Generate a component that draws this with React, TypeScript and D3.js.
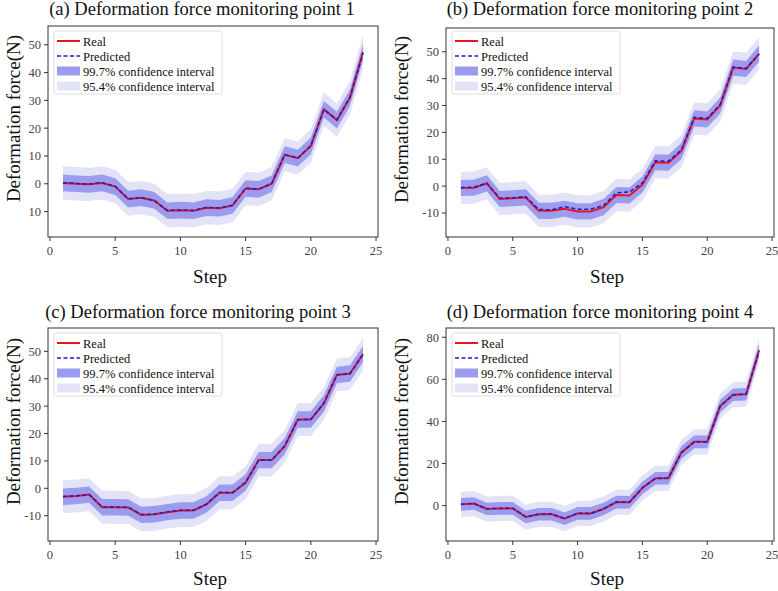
import * as d3 from 'd3';

const steps = d3.range(1, 25);

// real / predicted values per monitoring point
const realA = [0.3, 0, -0.2, 0.3, -1, -5.5, -5, -6, -9.7, -9.5, -9.7, -8.6, -8.8, -7.8, -1.7, -2, 0, 10.5, 9.2, 13.6, 26.8, 22.9, 31, 47.3];
const predA = [0.4, 0.1, -0.1, 0.4, -0.9, -5.4, -5, -6.1, -9.6, -9.4, -9.6, -8.5, -8.7, -7.7, -1.6, -1.9, 0.1, 10.4, 9.3, 13.7, 26.7, 23, 31.1, 47.1];

const realB = [-0.7, -0.6, 1, -4.8, -4.5, -4.2, -9.2, -9.2, -8.4, -9.4, -9.4, -7.8, -3.3, -3.5, 0.6, 8.9, 8.7, 13, 25.2, 24.8, 30, 44.1, 43.6, 49.3];
const predB = [-0.5, -0.4, 1.1, -4.5, -4.3, -4, -8.7, -8.8, -7.7, -8.6, -8.6, -7.2, -2.5, -2.2, 1.2, 9.4, 9.2, 13.4, 25.6, 25.2, 30.4, 44.3, 43.8, 49.1];

const realC = [-3.1, -2.8, -2.3, -6.9, -6.9, -7, -9.7, -9.5, -8.7, -8.1, -8.1, -5.9, -1.6, -1.6, 2.1, 10.3, 10.3, 15.4, 25.1, 25.1, 31, 41.4, 41.9, 49];
const predC = [-3, -2.8, -2.2, -6.8, -6.9, -6.9, -9.6, -9.5, -8.6, -8, -8, -5.8, -1.5, -1.6, 2.2, 10.2, 10.3, 15.5, 25, 25.2, 31.1, 41.5, 41.8, 48.8];

const realD = [0.6, 1, -1.6, -1.3, -1.3, -5.4, -4.1, -4.1, -6.2, -3.7, -3.7, -1.6, 1.7, 1.6, 8.4, 13, 13, 25.2, 30.3, 30.3, 47.3, 52.7, 52.9, 73.8];
const predD = [0.7, 1, -1.5, -1.3, -1.2, -5.3, -4.1, -4, -6.1, -3.6, -3.7, -1.5, 1.8, 1.6, 8.5, 12.9, 13.1, 25.1, 30.4, 30.2, 47.4, 52.6, 53, 73.5];

// half widths of the two bands
const inner = 3;
const outer = 6;

const xTicks = [0, 5, 10, 15, 20, 25];

const panels = [
  { title: '(a) Deformation force monitoring point 1', real: realA, pred: predA, yTicks: [-10, 0, 10, 20, 30, 40, 50], noMinus: true,
    box: { l: 48, r: 378, t: 26, b: 237 }, titleX: 202, titleY: 15, ylabX: 20, stepY: 283 },
  { title: '(b) Deformation force monitoring point 2', real: realB, pred: predB, yTicks: [-10, 0, 10, 20, 30, 40, 50], noMinus: false,
    box: { l: 446, r: 774, t: 28, b: 237 }, titleX: 600, titleY: 15, ylabX: 408, stepY: 283 },
  { title: '(c) Deformation force monitoring point 3', real: realC, pred: predC, yTicks: [-10, 0, 10, 20, 30, 40, 50], noMinus: false,
    box: { l: 48, r: 378, t: 328, b: 541 }, titleX: 198, titleY: 318, ylabX: 20, stepY: 585 },
  { title: '(d) Deformation force monitoring point 4', real: realD, pred: predD, yTicks: [0, 20, 40, 60, 80], noMinus: false,
    box: { l: 446, r: 774, t: 328, b: 541 }, titleX: 600, titleY: 318, ylabX: 408, stepY: 585 },
];

const serif = '"Liberation Serif", "Times New Roman", serif';

function Panel({ p }: { p: any }) {
  const { l, r, t, b } = p.box;
  const xMin = 1, xMax = 24;
  const xPad = (xMax - xMin) * 0.05;
  const x = d3.scaleLinear().domain([xMin - xPad, xMax + xPad]).range([l, r]);
  const lo = d3.min(p.real as number[])! - outer;
  const hi = d3.max(p.real as number[])! + outer;
  const yPad = (hi - lo) * 0.05;
  const y = d3.scaleLinear().domain([lo - yPad, hi + yPad]).range([b, t]);

  const band = (w: number) =>
    d3.area<number>()
      .x((_, i) => x(steps[i]))
      .y0((d) => y(d - w))
      .y1((d) => y(d + w))(p.real);
  const line = d3.line<number>().x((_, i) => x(steps[i])).y((d) => y(d));

  const lx = l + 6;
  const ly = t + (p.box.t === 28 ? 3 : 5);
  const legend = [
    { label: 'Real', kind: 'real' },
    { label: 'Predicted', kind: 'pred' },
    { label: '99.7% confidence interval', kind: 'inner' },
    { label: '95.4% confidence interval', kind: 'outer' },
  ];

  return (
    <g>
      <text x={p.titleX} y={p.titleY} textAnchor="middle" fontFamily={serif} fontSize={18.5} fill="#111">{p.title}</text>
      <path d={band(outer)!} fill="#e3e3f8" />
      <path d={band(inner)!} fill="#9b9bef" />
      <path d={line(p.real)!} fill="none" stroke="#e8141e" strokeWidth={2} />
      <path d={line(p.pred)!} fill="none" stroke="#1c1cc8" strokeWidth={1.5} strokeDasharray="4 2.5" />
      <rect x={l} y={t} width={r - l} height={b - t} fill="none" stroke="#333" strokeWidth={1} />
      {xTicks.map((v) => (
        <g key={v}>
          <line x1={x(v)} x2={x(v)} y1={b} y2={b + 4} stroke="#333" />
          <text x={x(v)} y={b + 18} textAnchor="middle" fontFamily={serif} fontSize={12.5} fill="#444">{v}</text>
        </g>
      ))}
      {p.yTicks.map((v: number) => (
        <g key={v}>
          <line x1={l - 4} x2={l} y1={y(v)} y2={y(v)} stroke="#333" />
          <text x={l - 7} y={y(v) + 4.5} textAnchor="end" fontFamily={serif} fontSize={12.5} fill="#444">
            {p.noMinus ? String(Math.abs(v)) : String(v)}
          </text>
        </g>
      ))}
      <text x={(l + r) / 2 - 3} y={p.stepY} textAnchor="middle" fontFamily={serif} fontSize={19} fill="#111">Step</text>
      <text transform={`translate(${p.ylabX},${(t + b) / 2 - 13}) rotate(-90)`} textAnchor="middle" fontFamily={serif} fontSize={19} fill="#111">
        Deformation force(N)
      </text>
      <rect x={lx} y={ly} width={168} height={63} rx={2.5} fill="#fff" fillOpacity={0.85} stroke="#ddd" />
      {legend.map((e, i) => {
        const cy = ly + 10 + i * 15;
        return (
          <g key={e.label}>
            {e.kind === 'real' && <line x1={lx + 3} x2={lx + 26} y1={cy} y2={cy} stroke="#e8141e" strokeWidth={2} />}
            {e.kind === 'pred' && <line x1={lx + 3} x2={lx + 26} y1={cy} y2={cy} stroke="#1c1cc8" strokeWidth={1.5} strokeDasharray="4 2.5" />}
            {e.kind === 'inner' && <rect x={lx + 3} y={cy - 4.5} width={23} height={9} fill="#9b9bef" />}
            {e.kind === 'outer' && <rect x={lx + 3} y={cy - 4.5} width={23} height={9} fill="#e3e3f8" />}
            <text x={lx + 29} y={cy + 4.5} fontFamily={serif} fontSize={12.5} fill="#111">{e.label}</text>
          </g>
        );
      })}
    </g>
  );
}

export default function App() {
  return (
    <svg width={778} height={591} style={{ position: 'absolute', left: 0, top: 0, background: '#fff' }}>
      {panels.map((p) => (
        <Panel key={p.title} p={p} />
      ))}
    </svg>
  );
}
